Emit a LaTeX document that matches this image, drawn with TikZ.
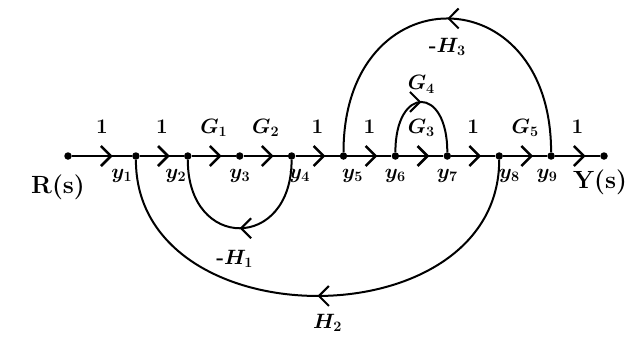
\documentclass[tikz,border=0pt]{standalone}
\usetikzlibrary{arrows.meta,positioning,decorations.markings}
\tikzstyle{vertex}=[circle, fill, inner sep=0pt, minimum size=7.5pt]
\tikzstyle{gain}=[font=\huge\boldmath\bfseries, inner sep=1pt, text depth=0pt]
\tikzstyle{vlab}=[font=\huge\boldmath\bfseries, inner sep=1pt]
\tikzstyle{branch}=[line width=2.5pt, postaction={decorate},
decoration={markings, mark=at position 0.68 with {\arrow{Straight Barb[length=10pt,width=20pt]}}}]
\tikzstyle{fback}=[line width=2pt, postaction={decorate},
decoration={markings, mark=at position 0.5 with {\arrow{Straight Barb[length=10pt,width=20pt]}}}]
\begin{document}
\begin{tikzpicture}[node distance=44pt, x=1pt, y=1pt, label distance=8pt]
    \useasboundingbox (0,0) rectangle (627,-338);

    % nodes of the graph
    \node[vertex, label={[vlab, font=\Huge\bfseries, xshift=-10pt, yshift=-6pt]below:R(s)}] (R) at (68,-156) {};
    \node[vertex, right=60pt of R, label={[vlab, xshift=-14pt]below:$y_1$}] (y1) {};
    \node[vertex, right=of y1, label={[vlab, xshift=-12pt]below:$y_2$}] (y2) {};
    \node[vertex, right=of y2, label={[vlab]below:$y_3$}] (y3) {};
    \node[vertex, right=of y3, label={[vlab, xshift=8pt]below:$y_4$}] (y4) {};
    \node[vertex, right=of y4, label={[vlab, xshift=9pt]below:$y_5$}] (y5) {};
    \node[vertex, right=of y5, label={[vlab]below:$y_6$}] (y6) {};
    \node[vertex, right=of y6, label={[vlab]below:$y_7$}] (y7) {};
    \node[vertex, right=of y7, label={[vlab, xshift=10pt]below:$y_8$}] (y8) {};
    \node[vertex, right=of y8, label={[vlab, xshift=-4pt]below:$y_9$}] (y9) {};
    \node[vertex, right=45pt of y9, label={[vlab, font=\Huge\bfseries, xshift=-4pt, yshift=-1pt]below:Y(s)}] (Y) {};

    % forward branches
    \draw[branch] (R) -- node[gain, above=20pt] {$1$} (y1);
    \draw[branch] (y1) -- node[gain, above=20pt] {$1$} (y2);
    \draw[branch] (y2) -- node[gain, above=20pt] {$G_1$} (y3);
    \draw[branch] (y3) -- node[gain, above=20pt] {$G_2$} (y4);
    \draw[branch] (y4) -- node[gain, above=20pt] {$1$} (y5);
    \draw[branch] (y5) -- node[gain, above=20pt] {$1$} (y6);
    \draw[branch] (y6) -- node[gain, above=20pt] {$G_3$} (y7);
    \draw[branch] (y7) -- node[gain, above=20pt] {$1$} (y8);
    \draw[branch] (y8) -- node[gain, above=20pt] {$G_5$} (y9);
    \draw[branch] (y9) -- node[gain, above=20pt] {$1$} (Y);

    % parallel and feedback loops
    \draw[fback] (y6) to[out=90, in=90, looseness=3.3] node[gain, above=10pt] {$G_4$} (y7);
    \draw[fback] (y9) to[out=90, in=90, looseness=2.2] node[gain, below=18pt] {-$H_3$} (y5);
    \draw[fback] (y4) to[out=-90, in=-90, looseness=2.25] node[gain, below=20pt, xshift=-5pt] {-$H_1$} (y2);
    \draw[fback] (y8) to[out=-90, in=-90, looseness=1.28] node[gain, below=16pt, xshift=10pt] {$H_2$} (y1);
\end{tikzpicture}
\end{document}
